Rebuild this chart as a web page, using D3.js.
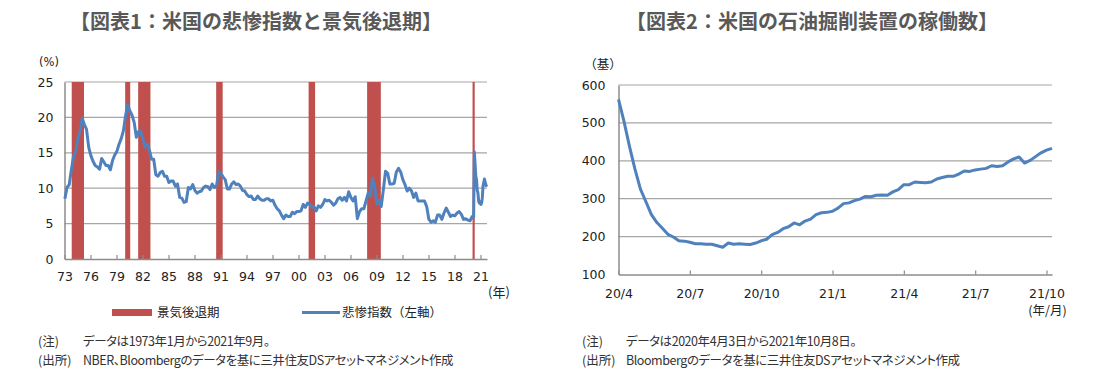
<!DOCTYPE html>
<html><head><meta charset="utf-8">
<script src="https://cdn.jsdelivr.net/npm/d3@7"></script>
<style>
body{margin:0;background:#fff;}
svg{display:block;background:#fff;}
.jp{font-family:"Noto Sans CJK JP","Noto Sans",sans-serif;}
.palt{font-feature-settings:"palt";}
.num{font-family:"DejaVu Sans",Verdana,sans-serif;}
</style></head><body>
<svg id="c" width="1111" height="381"></svg>
<script>
// ---------- Chart 1 data: US misery index (unemployment + CPI YoY), % ----------
// quarterly values (Jan, Apr, Jul, Oct)
const miseryQ1970s = [8.5,10.1,10.5,12.6, 14.5,15.2,17.0,18.0, 19.9,19.0,18.3,15.8, 14.6,13.8,13.2,13.0,
  12.7,14.2,13.7,13.2, 13.2,12.6,13.9,14.7, 15.2,16.2,17.0,18.1];               // 1973-01 .. 1979-10
const miseryQ1980s = [20.2,21.8,20.9,20.3, 19.3,17.2,18.0,18.0, 17.0,15.8,16.2,15.4, 14.1,14.1,11.9,11.7,
  12.2,12.4,11.7,11.7, 10.8,11.0,11.0,10.3, 10.6,8.7,8.6,8.0, 8.1,10.1,9.9,10.5,
  9.7,9.3,9.5,9.6, 10.1,10.3,10.2,9.8];                                        // 1980-01 .. 1989-10
const miseryQ1990s = [10.6,10.1,10.3,12.4, 12.1,11.6,11.2,9.9, 9.9,10.6,10.9,10.5, 10.6,10.3,9.7,9.6,
  9.1,8.8,8.9,8.4, 8.4,8.9,8.5,8.3, 8.3,8.5,8.5,8.2, 8.3,7.6,7.1,6.8,
  6.2,5.7,6.2,6.0, 6.0,6.6,6.4,6.7];                                           // 1990-01 .. 1999-10
const miseryQ2000s = [6.7,6.8,7.7,7.3, 7.9,7.7,7.3,7.4, 6.8,7.5,7.3,7.7, 8.4,8.2,8.3,8.0,
  7.6,7.9,8.5,8.7, 8.3,8.7,8.2,9.5, 8.7,8.2,8.8,5.7, 6.7,7.1,7.1,8.2,
  9.3,8.9,11.4,10.2, 7.8,8.3,7.4,9.8];                                         // 2000-01 .. 2009-10
const miseryQ2010s = [12.4,12.1,10.6,10.6, 10.7,12.3,12.8,12.3, 11.2,10.5,9.6,10.0, 9.6,8.7,9.3,8.2,
  8.2,8.2,8.2,7.4, 5.6,5.2,5.4,5.2, 6.2,6.2,5.6,6.5, 7.2,6.6,6.0,6.2,
  6.1,6.5,6.7,6.3, 5.6,5.7,5.5,5.4];                                           // 2010-01 .. 2019-10
// monthly values 2020-01 .. 2021-09
const miseryM2020s = [6.0,5.8,5.9,15.1,13.4,11.7,11.2,9.7,9.3,8.1,7.9,8.1,
  7.7,7.9,8.6,10.3,10.8,11.3,10.8,10.5,10.2];

// NBER recession periods (start, end month inclusive)
const recessionStart = ["1973-11","1980-01","1981-07","1990-07","2001-03","2007-12","2020-02"];
const recessionEnd   = ["1975-03","1980-07","1982-11","1991-03","2001-11","2009-06","2020-04"];

const yearTicks = ["73","76","79","82","85","88","91","94","97","00","03","06","09","12","15","18","21"];
const leftYTicks = [0,5,10,15,20,25];

// ---------- Chart 2 data: US oil rig count (weekly, 2020-04-03 .. 2021-10-08) ----------
const rigCount = [562,504,438,378,325,292,258,237,222,206,199,189,188,
  185,181,181,180,180,176,172,183,180,181,180,179,183,
  189,193,205,211,221,226,236,231,241,246,258,263,264,
  267,275,287,289,295,299,306,305,309,310,309,318,324,
  337,337,344,343,342,344,352,356,359,359,365,373,372,
  376,378,380,387,385,387,397,405,410,394,401,411,421,
  428,433];
const rigTickWeeks  = [0,13,26,39,52,65,78];
const rigTickLabels = ["20/4","20/7","20/10","21/1","21/4","21/7","21/10"];
const rightYTicks = [100,200,300,400,500,600];

// ---------- drawing ----------
const svg = d3.select("#c");
const BLUE = "#4F81BD", RED = "#C0504D", GRID = "#a6a6a6", AXIS = "#8c8c8c", TXT = "#222";

// titles
svg.append("text").attr("class","jp").attr("x",256).attr("y",29).attr("text-anchor","middle")
  .attr("font-size",20).attr("font-weight","bold").attr("fill","#595959")
  .text("【図表1：米国の悲惨指数と景気後退期】");
svg.append("text").attr("class","jp").attr("x",812).attr("y",29).attr("text-anchor","middle")
  .attr("font-size",20).attr("font-weight","bold").attr("fill","#595959")
  .text("【図表2：米国の石油掘削装置の稼働数】");

// ===== Left chart =====
const monthIdx = s => { const [y,m] = s.split("-").map(Number); return (y-1973)*12 + (m-1); };
const miseryPts = [];
[[miseryQ1970s,1973],[miseryQ1980s,1980],[miseryQ1990s,1990],[miseryQ2000s,2000],[miseryQ2010s,2010]]
  .forEach(([arr,y0]) => arr.forEach((v,i)=> miseryPts.push({m:(y0-1973)*12 + i*3, v})));
miseryM2020s.forEach((v,i)=> miseryPts.push({m:(2020-1973)*12 + i, v}));
const nMonths = (2021-1973)*12 + 9;

const L = {x0:64.5, x1:487, y0:259, y1:82};
const xL = d3.scaleLinear().domain([0,nMonths]).range([L.x0,L.x1]);
const yL = d3.scaleLinear().domain([0,25]).range([L.y0,L.y1]);

const gL = svg.append("g");
gL.selectAll("line.grid").data(leftYTicks.filter(d=>d>0)).join("line")
  .attr("x1",L.x0).attr("x2",L.x1).attr("y1",d=>yL(d)).attr("y2",d=>yL(d))
  .attr("stroke",GRID).attr("stroke-width",1.2);
gL.selectAll("rect.rec").data(recessionStart.map((s,i)=>({s:monthIdx(s), e:monthIdx(recessionEnd[i])+1})))
  .join("rect").attr("x",d=>xL(d.s)).attr("width",d=>xL(d.e)-xL(d.s))
  .attr("y",yL(25)).attr("height",yL(0)-yL(25)).attr("fill",RED);
const xAxL = d3.axisBottom(xL).tickValues(yearTicks.map((_,i)=>i*36)).tickFormat((d,i)=>yearTicks[i])
  .tickSizeInner(-4).tickSizeOuter(0).tickPadding(13.5);
const axL = gL.append("g").attr("transform",`translate(0,${L.y0})`).call(xAxL);
axL.select(".domain").attr("stroke",AXIS).attr("stroke-width",1.5);
axL.selectAll(".tick line").attr("stroke",AXIS).attr("stroke-width",1.2);
axL.selectAll(".tick text").attr("class","num").attr("font-size",12.5).attr("fill",TXT);
const yAxL = d3.axisLeft(yL).tickValues(leftYTicks).tickSize(0).tickPadding(11);
const ayL = gL.append("g").attr("transform",`translate(${L.x0},0)`).call(yAxL);
ayL.select(".domain").attr("stroke",AXIS).attr("stroke-width",1.5);
ayL.selectAll(".tick text").attr("class","num").attr("font-size",12.5).attr("fill",TXT);
gL.append("path").datum(miseryPts)
  .attr("d", d3.line().x(d=>xL(d.m+0.5)).y(d=>yL(d.v)))
  .attr("fill","none").attr("stroke",BLUE).attr("stroke-width",3).attr("stroke-linejoin","round");
svg.append("text").attr("class","num").attr("x",39).attr("y",66).attr("font-size",11.5).attr("fill",TXT).text("(%)");
svg.append("text").attr("class","jp").attr("x",488).attr("y",297).attr("font-size",13).attr("fill",TXT).text("(年)");
// legend
svg.append("rect").attr("x",112).attr("y",309).attr("width",40).attr("height",7).attr("fill",RED);
svg.append("text").attr("class","jp").attr("x",157).attr("y",317).attr("font-size",12.5).attr("fill",TXT).text("景気後退期");
svg.append("line").attr("x1",302).attr("x2",340).attr("y1",312.5).attr("y2",312.5).attr("stroke",BLUE).attr("stroke-width",3);
svg.append("text").attr("class","jp").attr("x",342).attr("y",317).attr("font-size",12.5).attr("fill",TXT).text("悲惨指数（左軸）");
// notes
const notes = (x, x2, lines) => lines.forEach(([a,b],i)=>{
  svg.append("text").attr("class","jp palt").attr("x",x).attr("y",346+i*18.5).attr("font-size",12.5).attr("fill","#333").text(a);
  svg.append("text").attr("class","jp palt").attr("x",x2).attr("y",346+i*18.5).attr("font-size",12.5)
    .attr("letter-spacing",-0.45).attr("fill","#333").text(b);
});
notes(38, 83, [["(注)","データは1973年1月から2021年9月。"],["(出所)","NBER、Bloombergのデータを基に三井住友DSアセットマネジメント作成"]]);

// ===== Right chart =====
const R = {x0:618.5, x1:1052, y0:274.5, y1:85};
const xR = d3.scaleLinear().domain([0,rigCount.length-1]).range([R.x0,R.x1]);
const yR = d3.scaleLinear().domain([100,600]).range([R.y0,R.y1]);
const gR = svg.append("g");
gR.selectAll("line.grid").data(rightYTicks.filter(d=>d>100)).join("line")
  .attr("x1",R.x0).attr("x2",R.x1).attr("y1",d=>yR(d)).attr("y2",d=>yR(d))
  .attr("stroke",GRID).attr("stroke-width",1.2);
const xAxR = d3.axisBottom(xR).tickValues(rigTickWeeks).tickFormat((d,i)=>rigTickLabels[i])
  .tickSizeInner(-4).tickSizeOuter(0).tickPadding(14.5);
const axR = gR.append("g").attr("transform",`translate(0,${R.y0})`).call(xAxR);
axR.select(".domain").attr("stroke",AXIS).attr("stroke-width",1.5);
axR.selectAll(".tick line").attr("stroke",AXIS).attr("stroke-width",1.2);
axR.selectAll(".tick text").attr("class","num").attr("font-size",12.5).attr("fill",TXT);
const yAxR = d3.axisLeft(yR).tickValues(rightYTicks).tickSize(0).tickPadding(13);
const ayR = gR.append("g").attr("transform",`translate(${R.x0},0)`).call(yAxR);
ayR.select(".domain").attr("stroke",AXIS).attr("stroke-width",1.5);
ayR.selectAll(".tick text").attr("class","num").attr("font-size",12.5).attr("fill",TXT);
gR.append("path").datum(rigCount)
  .attr("d", d3.line().x((d,i)=>xR(i)).y(d=>yR(d)))
  .attr("fill","none").attr("stroke",BLUE).attr("stroke-width",3).attr("stroke-linejoin","round");
svg.append("text").attr("class","jp").attr("x",603).attr("y",68.5).attr("text-anchor","middle").attr("font-size",12.5).attr("fill",TXT).text("（基）");
svg.append("text").attr("class","jp").attr("x",1047.5).attr("y",314.5).attr("text-anchor","middle").attr("font-size",12.5).attr("fill",TXT).text("(年/月)");
notes(582, 626, [["(注)","データは2020年4月3日から2021年10月8日。"],["(出所)","Bloombergのデータを基に三井住友DSアセットマネジメント作成"]]);
</script>
</body></html>
